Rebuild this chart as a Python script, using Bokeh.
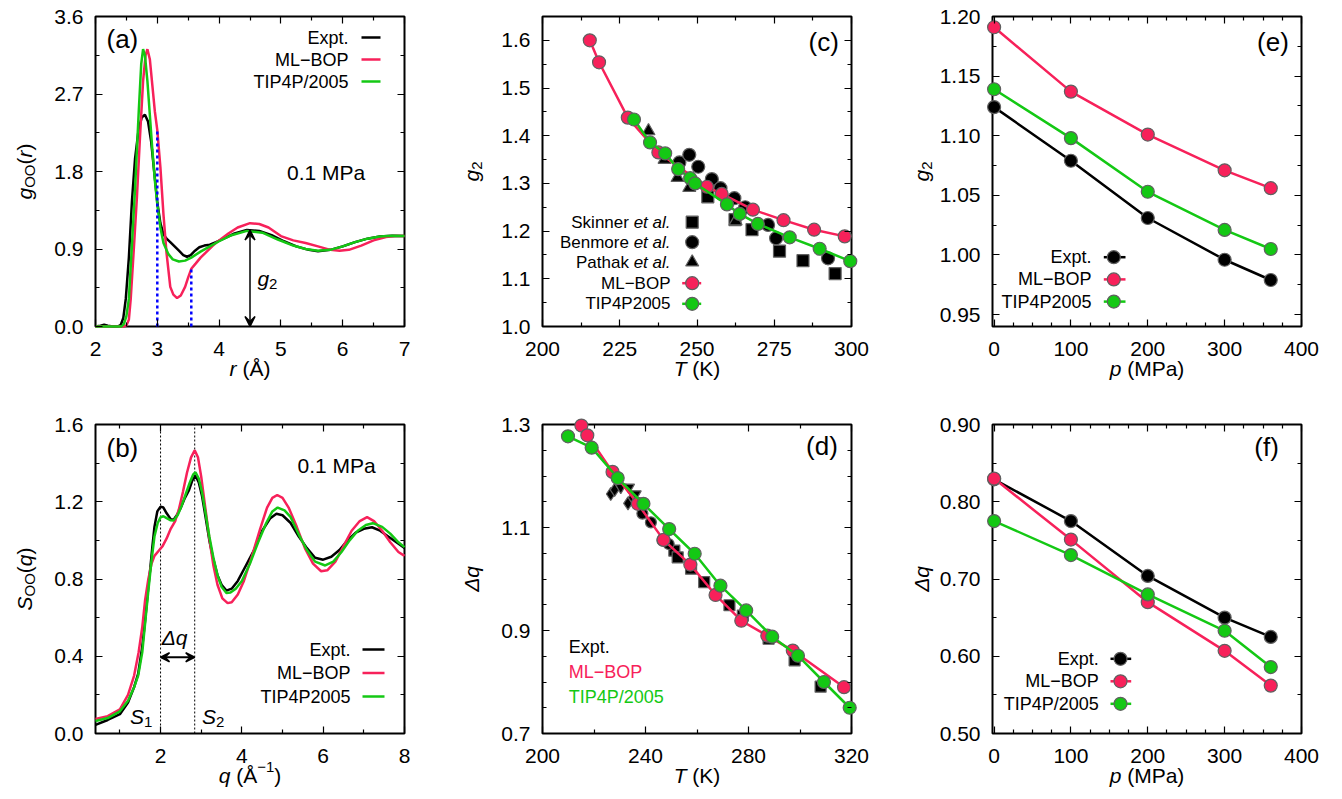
import numpy as np
from bokeh.plotting import figure
from bokeh.models import (Label, Arrow, VeeHead, FixedTicker, LinearAxis, Range1d,
                          NumeralTickFormatter, CustomJSTickFormatter)
from bokeh.layouts import row, column
from bokeh.embed import file_html
from bokeh.resources import INLINE

# ---------------- data ----------------
# (a) g_OO(r) at 0.1 MPa
a_r_expt = [2.00, 2.08, 2.14, 2.20, 2.28, 2.36, 2.41, 2.45, 2.49, 2.54, 2.59, 2.64, 2.70, 2.75, 2.80,
            2.85, 2.90, 2.95, 3.00, 3.05, 3.10, 3.15, 3.21, 3.28, 3.35, 3.42, 3.48, 3.54, 3.61, 3.68,
            3.76, 3.85, 3.95, 4.10, 4.25, 4.45, 4.65, 4.85, 5.05, 5.25, 5.45, 5.60, 5.80, 6.00, 6.20,
            6.40, 6.60, 6.80, 7.00]
a_g_expt = [0.00, 0.01, 0.02, 0.01, 0.00, 0.00, 0.02, 0.10, 0.32, 0.80, 1.46, 1.95, 2.30, 2.43, 2.46,
            2.38, 2.15, 1.80, 1.44, 1.20, 1.07, 1.02, 0.98, 0.93, 0.88, 0.83, 0.81, 0.83, 0.88, 0.92,
            0.94, 0.95, 0.98, 1.03, 1.08, 1.12, 1.11, 1.06, 0.99, 0.93, 0.89, 0.875, 0.89, 0.93, 0.98,
            1.02, 1.045, 1.055, 1.05]
a_r_mlbop = [2.00, 2.30, 2.45, 2.50, 2.54, 2.57, 2.62, 2.67, 2.72, 2.77, 2.81, 2.84, 2.88, 2.92, 2.96,
             3.00, 3.05, 3.10, 3.15, 3.21, 3.26, 3.32, 3.38, 3.45, 3.50, 3.55, 3.62, 3.70, 3.80, 3.90,
             4.00, 4.15, 4.30, 4.50, 4.65, 4.80, 5.00, 5.20, 5.40, 5.60, 5.80, 5.95, 6.10, 6.30, 6.50,
             6.70, 6.85, 7.00]
a_g_mlbop = [0.00, 0.00, 0.00, 0.01, 0.08, 0.32, 0.90, 1.50, 2.20, 2.85, 3.15, 3.22, 3.10, 2.80, 2.50,
             2.28, 1.85, 1.30, 0.85, 0.46, 0.37, 0.33, 0.36, 0.46, 0.57, 0.67, 0.73, 0.80, 0.87, 0.94,
             1.00, 1.08, 1.15, 1.20, 1.19, 1.15, 1.05, 1.00, 0.97, 0.93, 0.89, 0.88, 0.89, 0.94, 1.00,
             1.04, 1.05, 1.05]
a_r_tip = [2.00, 2.30, 2.42, 2.46, 2.50, 2.54, 2.59, 2.64, 2.70, 2.74, 2.77, 2.80, 2.84, 2.88, 2.92,
           2.96, 3.00, 3.05, 3.10, 3.18, 3.25, 3.35, 3.45, 3.55, 3.70, 3.85, 4.00, 4.20, 4.45, 4.70,
           4.95, 5.20, 5.40, 5.60, 5.80, 6.00, 6.20, 6.40, 6.60, 6.80, 7.00]
a_g_tip = [0.00, 0.00, 0.00, 0.03, 0.12, 0.32, 0.95, 1.60, 2.50, 3.05, 3.22, 3.15, 2.85, 2.45, 2.05,
           1.70, 1.42, 1.15, 0.97, 0.84, 0.78, 0.755, 0.765, 0.80, 0.87, 0.93, 0.99, 1.06, 1.11, 1.09,
           1.01, 0.94, 0.90, 0.88, 0.89, 0.93, 0.98, 1.02, 1.045, 1.055, 1.05]

# (b) S_OO(q) at 0.1 MPa
b_q_expt = [0.40, 0.70, 1.00, 1.20, 1.35, 1.45, 1.55, 1.62, 1.70, 1.75, 1.80, 1.85, 1.92, 2.00, 2.07,
            2.15, 2.25, 2.32, 2.40, 2.50, 2.60, 2.70, 2.78, 2.86, 2.94, 3.02, 3.10, 3.20, 3.30, 3.40,
            3.50, 3.62, 3.75, 3.90, 4.10, 4.30, 4.50, 4.70, 4.85, 5.00, 5.20, 5.40, 5.60, 5.80, 6.00,
            6.20, 6.40, 6.60, 6.80, 7.00, 7.20, 7.40, 7.60, 7.80, 8.00]
b_s_expt = [0.045, 0.07, 0.10, 0.16, 0.24, 0.31, 0.45, 0.585, 0.76, 0.86, 0.97, 1.07, 1.15, 1.175, 1.17,
            1.14, 1.11, 1.107, 1.13, 1.17, 1.22, 1.26, 1.31, 1.336, 1.30, 1.23, 1.13, 1.00, 0.90, 0.82,
            0.77, 0.74, 0.75, 0.79, 0.87, 0.95, 1.05, 1.115, 1.138, 1.13, 1.09, 1.02, 0.96, 0.91, 0.90,
            0.915, 0.95, 1.00, 1.04, 1.06, 1.068, 1.05, 1.02, 0.99, 0.96]
b_q_mlbop = [0.40, 0.70, 1.00, 1.20, 1.35, 1.46, 1.55, 1.62, 1.70, 1.78, 1.85, 1.95, 2.05, 2.15, 2.25,
             2.36, 2.45, 2.55, 2.65, 2.75, 2.84, 2.92, 3.00, 3.10, 3.20, 3.30, 3.40, 3.52, 3.65, 3.75,
             3.90, 4.05, 4.25, 4.45, 4.62, 4.75, 4.87, 5.00, 5.15, 5.35, 5.55, 5.75, 5.95, 6.10, 6.30,
             6.50, 6.70, 6.90, 7.08, 7.25, 7.45, 7.65, 7.85, 8.00]
b_s_mlbop = [0.075, 0.09, 0.125, 0.20, 0.30, 0.42, 0.55, 0.69, 0.80, 0.88, 0.92, 0.945, 0.97, 1.01, 1.06,
             1.10, 1.16, 1.25, 1.35, 1.43, 1.466, 1.43, 1.33, 1.17, 1.01, 0.87, 0.77, 0.70, 0.675, 0.68,
             0.72, 0.79, 0.92, 1.06, 1.17, 1.22, 1.235, 1.22, 1.17, 1.07, 0.96, 0.88, 0.84, 0.845, 0.89,
             0.97, 1.05, 1.10, 1.12, 1.10, 1.05, 0.99, 0.94, 0.92]
b_q_tip = [0.40, 0.70, 1.00, 1.20, 1.35, 1.45, 1.55, 1.62, 1.70, 1.78, 1.85, 1.93, 2.00, 2.07, 2.15,
           2.25, 2.32, 2.42, 2.52, 2.62, 2.72, 2.80, 2.86, 2.94, 3.02, 3.10, 3.20, 3.30, 3.40, 3.50,
           3.62, 3.72, 3.85, 4.00, 4.20, 4.40, 4.60, 4.75, 4.88, 5.05, 5.20, 5.40, 5.60, 5.80, 6.05,
           6.25, 6.45, 6.65, 6.85, 7.05, 7.22, 7.45, 7.65, 7.85, 8.00]
b_s_tip = [0.065, 0.08, 0.115, 0.17, 0.24, 0.30, 0.42, 0.57, 0.74, 0.90, 1.02, 1.09, 1.12, 1.125, 1.115,
           1.104, 1.103, 1.13, 1.18, 1.24, 1.30, 1.34, 1.353, 1.32, 1.25, 1.15, 1.02, 0.91, 0.82, 0.76,
           0.728, 0.73, 0.75, 0.79, 0.88, 0.99, 1.09, 1.15, 1.17, 1.155, 1.12, 1.03, 0.95, 0.89, 0.87,
           0.89, 0.94, 1.00, 1.05, 1.08, 1.089, 1.07, 1.035, 0.99, 0.965]

# (c) g2 vs T
c_T_mlbop = [215.3, 218.3, 227.6, 237.5, 253.2, 258.0, 268.1, 278.0, 287.9, 297.8]
c_g_mlbop = [1.600, 1.554, 1.438, 1.365, 1.293, 1.278, 1.245, 1.223, 1.203, 1.189]
c_T_tip = [229.6, 234.8, 239.7, 243.9, 247.8, 249.4, 259.7, 263.8, 269.7, 280.0, 289.7, 299.6]
c_g_tip = [1.434, 1.386, 1.363, 1.330, 1.311, 1.300, 1.256, 1.236, 1.215, 1.187, 1.163, 1.137]
c_T_skinner = [253.5, 262.3, 267.8, 276.7, 284.3, 294.7]
c_g_skinner = [1.272, 1.224, 1.203, 1.158, 1.138, 1.111]
c_T_benmore = [244.3, 247.5, 250.4, 254.8, 257.6, 262.1, 265.6, 273.0, 275.6, 292.4]
c_g_benmore = [1.344, 1.360, 1.335, 1.309, 1.290, 1.269, 1.250, 1.213, 1.185, 1.143]
c_T_pathak = [234.3, 239.5, 243.7, 247.5, 262.5]
c_g_pathak = [1.410, 1.350, 1.312, 1.291, 1.221]

# (d) Delta q vs T
d_T_mlbop = [215.1, 217.4, 227.2, 237.0, 247.0, 257.4, 267.2, 277.2, 287.3, 297.2, 317.1]
d_q_mlbop = [1.298, 1.279, 1.208, 1.146, 1.076, 1.028, 0.969, 0.919, 0.890, 0.861, 0.790]
d_T_tip = [209.9, 219.1, 229.2, 239.2, 249.2, 259.1, 269.1, 279.1, 289.2, 299.2, 309.3, 319.3]
d_q_tip = [1.277, 1.255, 1.196, 1.146, 1.097, 1.049, 0.987, 0.939, 0.888, 0.851, 0.800, 0.750]
d_T_expt_sq = [251.2, 252.5, 257.7, 262.8, 272.6, 277.8, 287.8, 297.9, 308.0]
d_q_expt_sq = [1.055, 1.042, 1.020, 0.994, 0.949, 0.929, 0.884, 0.842, 0.791]
d_T_expt_ci = [238.8, 242.1, 246.6, 249.0]
d_q_expt_ci = [1.127, 1.110, 1.075, 1.068]
d_T_expt_di = [226.5, 228.0, 233.2, 235.0]
d_q_expt_di = [1.165, 1.173, 1.147, 1.158]
d_T_expt_tr = [230.4, 233.6, 236.2]
d_q_expt_tr = [1.178, 1.178, 1.165]

# (e) g2 vs p, (f) Delta q vs p
p_MPa = [0.1, 100, 200, 300, 360]
e_g_expt = [1.124, 1.079, 1.031, 0.996, 0.979]
e_g_mlbop = [1.191, 1.137, 1.101, 1.071, 1.056]
e_g_tip = [1.139, 1.098, 1.053, 1.021, 1.005]
f_q_expt = [0.829, 0.775, 0.704, 0.650, 0.625]
f_q_mlbop = [0.830, 0.751, 0.670, 0.607, 0.562]
f_q_tip = [0.775, 0.731, 0.680, 0.633, 0.586]

# ---------------- style ----------------
FONT = "Liberation Sans"
RED = "#F7215A"
GREEN = "#14C814"
BLUE = "#0000FF"
EDGE = "#606060"
TICK = 21
LEG = 18
TAG = 26

CW = {' ': 278, '(': 333, ')': 333, '.': 278, '/': 278, 'A': 667, 'B': 667, 'E': 667, 'I': 278,
      'K': 667, 'L': 556, 'M': 833, 'O': 778, 'P': 667, 'S': 667, 'T': 611, 'a': 556, 'e': 556,
      'g': 556, 'i': 222, 'k': 500, 'l': 222, 'm': 833, 'n': 556, 'o': 556, 'p': 556, 'q': 556,
      'r': 333, 't': 278, 'x': 500, 'Å': 667, 'Δ': 668, '−': 584}


def tw(s, size):
    return sum(CW.get(c, 556) for c in s) * size / 1000.0


class Panel:
    """A figure whose Bokeh frame covers the whole canvas; the visible plot box is a sub-region
    (bl, bt, fw, fh in pixels), with the axes pinned to the box edges via fixed_location."""

    def __init__(self, w, h, bl, bt, fw, fh, xr, yr, xt, xm, yt, ym, xfmt, yfmt):
        self.fw, self.fh = fw, fh
        self.xr, self.yr = xr, yr
        br, bb = w - bl - fw, h - bt - fh
        ddx = (xr[1] - xr[0]) / fw
        ddy = (yr[1] - yr[0]) / fh
        p = figure(width=w, height=h,
                   x_range=Range1d(xr[0] - bl * ddx, xr[1] + br * ddx),
                   y_range=Range1d(yr[0] - bb * ddy, yr[1] + bt * ddy),
                   output_backend="svg", toolbar_location=None,
                   min_border_left=0, min_border_right=0, min_border_top=0, min_border_bottom=0)
        p.grid.visible = False
        p.outline_line_color = None
        p.background_fill_color = "white"
        p.border_fill_color = "white"
        p.quad(left=[xr[0]], right=[xr[1]], bottom=[yr[0]], top=[yr[1]], fill_color=None,
               line_color="black", line_width=2)
        xa, ya = p.xaxis[0], p.yaxis[0]
        xa.fixed_location = yr[0]
        ya.fixed_location = xr[0]
        for ax, t, m, fmt, so in [(xa, xt, xm, xfmt, 15), (ya, yt, ym, yfmt, 12)]:
            self.style_axis(ax, t, m)
            ax.formatter = NumeralTickFormatter(format=fmt)
            ax.major_label_text_font = FONT
            ax.major_label_text_font_size = f"{TICK}px"
            ax.major_label_text_color = "black"
            ax.major_label_standoff = so
        for loc, t, m, fl in [("above", xt, xm, yr[1]), ("right", yt, ym, xr[1])]:
            ax = LinearAxis(fixed_location=fl)
            self.style_axis(ax, t, m)
            ax.formatter = CustomJSTickFormatter(code="return '';")
            ax.major_label_text_font_size = "1px"
            ax.major_label_standoff = 0
            p.add_layout(ax, loc)
        self.p = p

    @staticmethod
    def style_axis(ax, t, m):
        ax.ticker = FixedTicker(ticks=t, minor_ticks=m)
        ax.axis_line_color = None
        ax.major_tick_in = 7
        ax.major_tick_out = 0
        ax.minor_tick_in = 4
        ax.minor_tick_out = 0
        ax.major_tick_line_color = "black"
        ax.minor_tick_line_color = "black"
        ax.major_tick_line_width = 1.2
        ax.minor_tick_line_width = 1.2

    def X(self, px):
        return self.xr[0] + px * (self.xr[1] - self.xr[0]) / self.fw

    def Y(self, py):  # py = pixels below the top of the plot box
        return self.yr[1] - py * (self.yr[1] - self.yr[0]) / self.fh

    def dx(self):
        return (self.xr[1] - self.xr[0]) / self.fw

    def dy(self):
        return (self.yr[1] - self.yr[0]) / self.fh

    def text(self, x, y, s, size, style="normal", align="left", color="black", angle=0.0):
        self.p.add_layout(Label(x=x, y=y, text=s, text_font=FONT, text_font_size=f"{size}px",
                                text_font_style=style, text_align=align, text_baseline="middle",
                                text_color=color, angle=angle))

    def comp(self, segs, xc, yc, rot=False):
        total = sum(tw(s, sz) for s, sz, st, sh in segs)
        cum = -total / 2.0
        for s, sz, st, sh in segs:
            body = s.lstrip(" ")
            cum += tw(" " * (len(s) - len(body)), sz)
            if rot:
                self.text(xc + sh * self.dx(), yc + cum * self.dy(), body, sz, st, angle=np.pi / 2)
            else:
                self.text(xc + cum * self.dx(), yc - sh * self.dy(), body, sz, st)
            cum += tw(body, sz)

    def xlabel(self, segs, below=42):
        self.comp(segs, self.X(self.fw / 2.0), self.Y(self.fh + below))

    def ylabel(self, segs, left=71):
        self.comp(segs, self.X(-left), self.Y(self.fh / 2.0), rot=True)

    def tag(self, s, px, py, align):
        self.text(self.X(px), self.Y(py), s, TAG, align=align)

    def leg_line(self, px0, px1, py, color, width=2.5):
        self.p.line([self.X(px0), self.X(px1)], [self.Y(py), self.Y(py)], line_color=color, line_width=width)

    def leg_marker(self, px, py, marker, color, size=13):
        self.p.scatter([self.X(px)], [self.Y(py)], marker=marker, size=size, fill_color=color,
                       line_color=EDGE, line_width=1.2)


def series(P, x, y, color, marker="circle", size=13, lines=True):
    if lines:
        P.p.line(x, y, line_color=color, line_width=2.5)
    P.p.scatter(x, y, marker=marker, size=size, fill_color=color, line_color=EDGE, line_width=1.2)


# geometry (pixels): page has no margin, so column 1 / row 1 carry the extra offset
W1, W2, W3 = 455, 450, 426
H1, H2 = 414, 377
BL1, BL = 95, 87
FW = 309
BT1, FH1 = 16, 310
BT2, FH2 = 10, 309
XMIN_P = [25, 50, 75, 125, 150, 175, 225, 250, 275, 325, 350, 375]

# ---------------- panel (a) ----------------
A = Panel(W1, H1, BL1, BT1, FW, FH1, (2, 7), (0, 3.6), [2, 3, 4, 5, 6, 7], [2.5, 3.5, 4.5, 5.5, 6.5],
          [0, 0.9, 1.8, 2.7, 3.6], [0.45, 1.35, 2.25, 3.15], "0", "0.0")
A.p.line(a_r_expt, a_g_expt, line_color="black", line_width=2.5)
A.p.line(a_r_mlbop, a_g_mlbop, line_color=RED, line_width=2.5)
A.p.line(a_r_tip, a_g_tip, line_color=GREEN, line_width=2.5)
A.p.segment(x0=[3.0, 3.55], y0=[0, 0], x1=[3.0, 3.55], y1=[2.28, 0.67], line_color=BLUE,
            line_width=2.5, line_dash="3 3")
A.p.add_layout(Arrow(start=VeeHead(size=10, line_width=1.5), end=VeeHead(size=10, line_width=1.5),
                     x_start=4.5, y_start=0.0, x_end=4.5, y_end=1.12, line_width=1.5))
A.text(4.62, 0.557, "g", 21, "italic")
A.text(4.62 + tw("g", 21) * A.dx(), 0.557 - 5 * A.dy(), "2", 15)
A.text(5.10, 1.785, "0.1 MPa", 21)
A.tag("(a)", 11, 22, "left")
for i, (s, c) in enumerate([("Expt.", "black"), ("ML−BOP", RED), ("TIP4P/2005", GREEN)]):
    py = 21 + 22 * i
    A.text(A.X(253), A.Y(py), s, LEG, align="right")
    A.leg_line(266, 285, py, c)
A.ylabel([("g", 21, "italic", 0), ("OO", 15, "normal", 5), ("(", 21, "normal", 0),
          ("r", 21, "italic", 0), (")", 21, "normal", 0)])
A.xlabel([("r", 21, "italic", 0), (" (Å)", 21, "normal", 0)])

# ---------------- panel (b) ----------------
B = Panel(W1, H2, BL1, BT2, FW, FH2, (0.4, 8), (0, 1.6), [2, 4, 6, 8], [1, 3, 5, 7],
          [0, 0.4, 0.8, 1.2, 1.6], [0.2, 0.6, 1.0, 1.4], "0", "0.0")
B.p.segment(x0=[2.0, 2.84], y0=[0, 0], x1=[2.0, 2.84], y1=[1.6, 1.6], line_color="black",
            line_width=1, line_dash="2 2")
B.p.line(b_q_expt, b_s_expt, line_color="black", line_width=2.5)
B.p.line(b_q_mlbop, b_s_mlbop, line_color=RED, line_width=2.5)
B.p.line(b_q_tip, b_s_tip, line_color=GREEN, line_width=2.5)
B.p.add_layout(Arrow(start=VeeHead(size=9, line_width=1.5), end=VeeHead(size=9, line_width=1.5),
                     x_start=2.0, y_start=0.395, x_end=2.84, y_end=0.395, line_width=2))
B.text(2.03, 0.497, "Δq", 21, "italic")
B.text(1.25, 0.088, "S", 21, "italic")
B.text(1.25 + tw("S", 21) * B.dx(), 0.088 - 5 * B.dy(), "1", 15)
B.text(3.02, 0.088, "S", 21, "italic")
B.text(3.02 + tw("S", 21) * B.dx(), 0.088 - 5 * B.dy(), "2", 15)
B.text(5.37, 1.388, "0.1 MPa", 21)
B.tag("(b)", 11, 23, "left")
for i, (s, c) in enumerate([("Expt.", "black"), ("ML−BOP", RED), ("TIP4P2005", GREEN)]):
    py = 225 + 23.5 * i
    B.text(B.X(255), B.Y(py), s, LEG, align="right")
    B.leg_line(267, 289, py, c)
B.ylabel([("S", 21, "italic", 0), ("OO", 15, "normal", 5), ("(", 21, "normal", 0),
          ("q", 21, "italic", 0), (")", 21, "normal", 0)])
B.xlabel([("q", 21, "italic", 0), (" (Å", 21, "normal", 0), ("−1", 15, "normal", -9),
          (")", 21, "normal", 0)])

# ---------------- panel (c) ----------------
C = Panel(W2, H1, BL, BT1, FW, FH1, (200, 300), (1.0, 1.65), [200, 225, 250, 275, 300],
          [212.5, 237.5, 262.5, 287.5],
          [1.0, 1.1, 1.2, 1.3, 1.4, 1.5, 1.6], [1.05, 1.15, 1.25, 1.35, 1.45, 1.55, 1.65], "0", "0.0")
series(C, c_T_skinner, c_g_skinner, "black", "square", 12, lines=False)
series(C, c_T_benmore, c_g_benmore, "black", "circle", 13, lines=False)
series(C, c_T_pathak, c_g_pathak, "black", "triangle", 13, lines=False)
series(C, c_T_mlbop, c_g_mlbop, RED)
series(C, c_T_tip, c_g_tip, GREEN)
C.tag("(c)", 296.3, 25.7, "right")
rows_c = [205.7, 225.7, 245.7, 266.7, 287.3]
for (name, mk), py in zip([("Skinner ", "square"), ("Benmore ", "circle"), ("Pathak ", "triangle")], rows_c):
    w_et = tw("et al.", 17)
    C.text(C.X(128), C.Y(py), "et al.", 17, "italic", align="right")
    C.text(C.X(128 - w_et), C.Y(py), name, 17, align="right")
    C.leg_marker(149.7, py, mk, "black", 12 if mk == "square" else 13)
for (name, col), py in zip([("ML−BOP", RED), ("TIP4P2005", GREEN)], rows_c[3:]):
    C.text(C.X(128), C.Y(py), name, 17, align="right")
    C.leg_line(139.7, 158.7, py, col)
    C.leg_marker(149.7, py, "circle", col)
C.ylabel([("g", 21, "italic", 0), ("2", 15, "normal", 5)])
C.xlabel([("T", 21, "italic", 0), (" (K)", 21, "normal", 0)])

# ---------------- panel (d) ----------------
D = Panel(W2, H2, BL, BT2, FW, FH2, (200, 320), (0.7, 1.3), [200, 240, 280, 320], [220, 260, 300],
          [0.7, 0.9, 1.1, 1.3],
          [0.75, 0.8, 0.85, 0.95, 1.0, 1.05, 1.15, 1.2, 1.25], "0", "0.0")
series(D, d_T_expt_sq, d_q_expt_sq, "black", "square", 11, lines=False)
series(D, d_T_expt_ci, d_q_expt_ci, "black", "circle", 11, lines=False)
series(D, d_T_expt_di, d_q_expt_di, "black", "diamond", 13, lines=False)
series(D, d_T_expt_tr, d_q_expt_tr, "black", "inverted_triangle", 11, lines=False)
series(D, d_T_mlbop, d_q_mlbop, RED)
series(D, d_T_tip, d_q_tip, GREEN)
D.tag("(d)", 295.3, 21, "right")
for i, (s, c) in enumerate([("Expt.", "black"), ("ML−BOP", RED), ("TIP4P/2005", GREEN)]):
    D.text(D.X(26.3), D.Y(222.7 + 25 * i), s, LEG, color=c)
D.ylabel([("Δq", 21, "italic", 0)])
D.xlabel([("T", 21, "italic", 0), (" (K)", 21, "normal", 0)])

# ---------------- panel (e) ----------------
E = Panel(W3, H1, BL, BT1, FW, FH1, (-2, 400), (0.94, 1.20), [0, 100, 200, 300, 400], XMIN_P,
          [0.95, 1.0, 1.05, 1.1, 1.15, 1.2], [0.975, 1.025, 1.075, 1.125, 1.175], "0", "0.00")
series(E, p_MPa, e_g_expt, "black")
series(E, p_MPa, e_g_mlbop, RED)
series(E, p_MPa, e_g_tip, GREEN)
E.tag("(e)", 296.3, 25.7, "right")
for i, (s, c) in enumerate([("Expt.", "black"), ("ML−BOP", RED), ("TIP4P2005", GREEN)]):
    py = 240.7 + 22.2 * i
    E.text(E.X(99), E.Y(py), s, LEG, align="right")
    E.leg_line(111.3, 133, py, c)
    E.leg_marker(121.3, py, "circle", c)
E.ylabel([("g", 21, "italic", 0), ("2", 15, "normal", 5)])
E.xlabel([("p", 21, "italic", 0), (" (MPa)", 21, "normal", 0)])

# ---------------- panel (f) ----------------
F = Panel(W3, H2, BL, BT2, FW, FH2, (-2, 400), (0.50, 0.90), [0, 100, 200, 300, 400], XMIN_P,
          [0.5, 0.6, 0.7, 0.8, 0.9], [0.55, 0.65, 0.75, 0.85], "0", "0.00")
series(F, p_MPa, f_q_expt, "black")
series(F, p_MPa, f_q_mlbop, RED)
series(F, p_MPa, f_q_tip, GREEN)
F.tag("(f)", 286.3, 22.7, "right")
for i, (s, c) in enumerate([("Expt.", "black"), ("ML−BOP", RED), ("TIP4P/2005", GREEN)]):
    py = 234.3 + 22.5 * i
    F.text(F.X(106.3), F.Y(py), s, LEG, align="right")
    F.leg_line(118, 138.7, py, c)
    F.leg_marker(128, py, "circle", c)
F.ylabel([("Δq", 21, "italic", 0)])
F.xlabel([("p", 21, "italic", 0), (" (MPa)", 21, "normal", 0)])

layout = column(row(A.p, C.p, E.p), row(B.p, D.p, F.p))
open("out.html", "w").write(file_html(layout, INLINE))
